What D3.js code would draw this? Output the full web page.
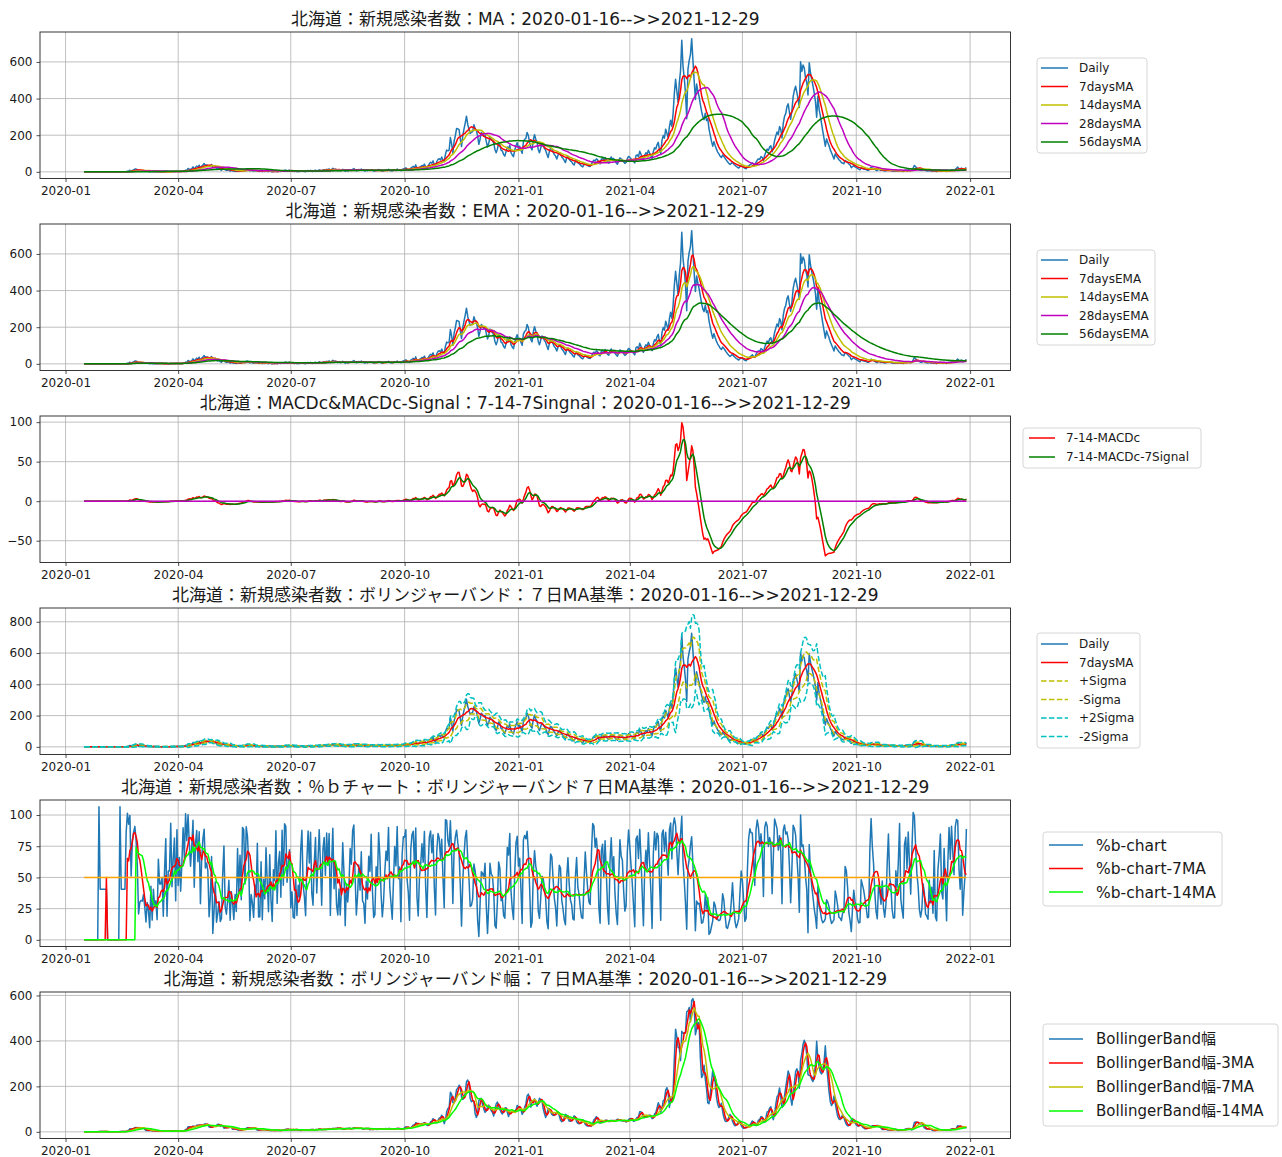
<!DOCTYPE html>
<html>
<head>
<meta charset="utf-8">
<script src="https://cdn.jsdelivr.net/npm/d3@7"></script>
<style>
  body { margin: 0; background: #fff; }
  svg text { font-family: "DejaVu Sans", "Noto Sans CJK JP", sans-serif; fill: #1a1a1a; }
</style>
</head>
<body>
<svg id="fig" width="1282" height="1157"></svg>
<script>
// daily new cases, Hokkaido, 2020-01-16 .. 2021-12-29
const cases2020 = [
  0,0,0,0,0,0,0,0,0,0,0,0,1,0,0,0,                                   // Jan 16-31
  0,0,0,0,0,0,0,0,0,0,0,0,0,1,0,0,0,0,1,3,4,9,3,8,11,15,15,12,4,      // Feb
  7,7,6,6,4,3,4,3,1,3,1,2,1,1,0,2,1,1,1,0,1,2,0,1,1,3,1,2,3,1,4,      // Mar
  2,3,2,3,5,4,9,8,18,15,12,17,27,14,24,31,25,36,19,30,37,45,35,38,36,29,33,40,23,25, // Apr
  30,18,17,18,12,9,18,20,11,8,9,12,4,8,6,3,5,2,7,4,6,3,9,11,6,14,15,12,5,8,6,      // May
  3,7,5,8,3,2,6,1,4,2,5,3,1,4,2,0,3,2,5,1,3,4,2,6,3,8,10,5,7,9,                    // Jun
  4,6,3,2,5,1,3,2,4,6,3,2,1,4,7,5,8,3,2,6,9,4,7,11,8,5,10,12,9,14,11,              // Jul
  16,8,13,19,12,15,10,7,11,6,9,14,10,3,8,5,7,12,9,14,18,11,6,9,13,10,15,8,7,4,9,   // Aug
  6,11,8,12,7,5,4,9,7,13,10,6,3,5,8,11,9,14,7,6,4,8,12,10,15,9,11,6,13,16,         // Sep
  18,22,14,12,9,20,25,30,21,38,17,13,24,28,35,31,42,26,20,33,44,52,47,60,38,31,55,68,72,65,81, // Oct
  62,57,96,119,115,119,187,153,100,166,197,236,235,230,181,138,197,233,266,304,
  260,232,209,216,220,257,237,226,196,150,                                          // Nov
  178,215,205,194,201,166,136,156,190,177,172,157,122,104,124,159,148,117,114,95,
  86,111,136,124,146,105,92,83,118,142,159                                          // Dec
];
const cases2021 = [
  128,140,118,101,162,177,182,215,198,161,132,120,174,203,178,165,122,104,130,152,
  141,128,117,96,78,112,131,125,109,94,86,                                          // Jan
  70,92,104,97,81,74,62,51,78,85,69,60,55,43,37,58,62,49,45,38,31,27,40,46,39,34,30,29, // Feb
  42,56,64,59,71,66,48,44,69,74,62,78,65,52,47,70,81,68,73,58,49,42,61,76,70,67,55,46,51,72,84, // Mar
  79,71,64,58,49,88,93,82,112,97,76,63,91,104,96,118,102,87,72,110,
  131,125,148,161,120,98,172,198,184,233,                                           // Apr
  210,186,245,282,248,320,430,505,440,380,486,552,718,575,512,430,290,561,608,640,
  727,612,498,395,480,440,410,370,330,300,285,                                      // May
  320,280,290,235,200,168,140,165,142,124,108,98,85,78,92,84,74,64,55,47,
  40,46,52,42,36,30,25,21,28,32,                                                    // Jun
  28,24,19,17,26,33,38,42,49,41,36,52,64,71,68,83,79,62,91,108,
  124,117,136,142,109,133,171,196,218,203,247,                                      // Jul
  232,185,264,302,318,356,371,324,287,336,410,445,467,432,398,352,601,548,583,567,
  512,488,420,596,541,503,470,432,385,298,412,                                      // Aug
  340,305,262,220,180,140,180,160,142,120,104,88,70,98,86,76,66,60,50,48,
  44,62,57,51,43,37,22,29,34,27,                                                    // Sep
  24,19,15,11,21,18,16,14,12,9,8,17,26,22,19,13,9,7,14,11,8,10,7,5,6,9,11,8,7,5,4, // Oct
  3,7,5,6,9,4,3,2,8,10,7,12,9,6,11,22,35,28,20,17,12,9,8,14,11,7,6,4,8,5,           // Nov
  6,4,7,3,2,5,6,8,4,3,7,5,2,6,9,7,12,10,8,14,19,26,17,13,21,11,15,18,24             // Dec 1-29
];

const xTickLabels = ["2020-01","2020-04","2020-07","2020-10","2021-01","2021-04","2021-07","2021-10","2022-01"];
const yTicksMA = [0, 200, 400, 600];
const yTicksMACD = [-50, 0, 50, 100];
const yTicksBB = [0, 200, 400, 600, 800];
const yTicksPctB = [0, 25, 50, 75, 100];
const yTicksWidth = [0, 200, 400, 600];

const maLabels = ["Daily", "7daysMA", "14daysMA", "28daysMA", "56daysMA"];
const emaLabels = ["Daily", "7daysEMA", "14daysEMA", "28daysEMA", "56daysEMA"];
const macdLabels = ["7-14-MACDc", "7-14-MACDc-7Signal"];
const bbLabels = ["Daily", "7daysMA", "+Sigma", "-Sigma", "+2Sigma", "-2Sigma"];
const pctBLabels = ["%b-chart", "%b-chart-7MA", "%b-chart-14MA"];
const widthLabels = ["BollingerBand幅", "BollingerBand幅-3MA", "BollingerBand幅-7MA", "BollingerBand幅-14MA"];

const period = "2020-01-16-->>2021-12-29";
const titles = [
  "北海道：新規感染者数：MA：" + period,
  "北海道：新規感染者数：EMA：" + period,
  "北海道：MACDc&MACDc-Signal：7-14-7Singnal：" + period,
  "北海道：新規感染者数：ボリンジャーバンド：７日MA基準：" + period,
  "北海道：新規感染者数：％ｂチャート：ボリンジャーバンド７日MA基準：" + period,
  "北海道：新規感染者数：ボリンジャーバンド幅：７日MA基準：" + period
];

// ---------- derived series ----------
const daily = cases2020.concat(cases2021);
const dates = daily.map((_, i) => new Date(2020, 0, 16 + i));

function rollMean(arr, n) {
  return arr.map((_, i) => {
    if (i < n - 1) return NaN;
    let s = 0;
    for (let k = i - n + 1; k <= i; k++) s += arr[k];
    return s / n;
  });
}
function rollStd(arr, n) {
  return arr.map((_, i) => {
    if (i < n - 1) return NaN;
    let m = 0;
    for (let k = i - n + 1; k <= i; k++) m += arr[k];
    m /= n;
    let q = 0;
    for (let k = i - n + 1; k <= i; k++) q += (arr[k] - m) * (arr[k] - m);
    return Math.sqrt(q / (n - 1));
  });
}
function ema(arr, span) {           // pandas ewm(span).mean(), adjust=True
  const a = 2 / (span + 1);
  let num = 0, den = 0;
  return arr.map(v => { num = v + (1 - a) * num; den = 1 + (1 - a) * den; return num / den; });
}
const fill0 = a => a.map(v => (isFinite(v) ? v : 0));

const ma7raw = rollMean(daily, 7), sd7raw = rollStd(daily, 7);
const ma7 = fill0(ma7raw), ma14 = fill0(rollMean(daily, 14)),
      ma28 = fill0(rollMean(daily, 28)), ma56 = fill0(rollMean(daily, 56));
const ema7 = ema(daily, 7), ema14 = ema(daily, 14), ema28 = ema(daily, 28), ema56 = ema(daily, 56);
const macd = ema7.map((v, i) => v - ema14[i]);
const signal = ema(macd, 7);
const band = k => fill0(ma7raw.map((m, i) => m + k * sd7raw[i]));
const pctBraw = daily.map((v, i) => {
  const s = sd7raw[i];
  if (!(s > 1e-9)) return NaN;
  return (v - (ma7raw[i] - 2 * s)) / (4 * s) * 100;
});
const widthRaw = sd7raw.map(s => 4 * s);

const C = { blue: "#1f77b4", red: "#ff0000", yel: "#bfbf00", mag: "#bf00bf", grn: "#008000",
            cyan: "#00bfbf", lime: "#00ff00", orange: "#ffa500" };
const dash = "5.5,2.4";

// ---------- layout ----------
const svg = d3.select("#fig");
const plotLeft = 40, plotRight = 1010.5, plotH = 146.5;
const panelTops = [32, 224, 416, 608, 800, 992];

const t0 = dates[0].getTime(), t1 = dates[dates.length - 1].getTime();
const xPad = (t1 - t0) * 0.05;
const x = d3.scaleTime().domain([new Date(t0 - xPad), new Date(t1 + xPad)]).range([plotLeft, plotRight]);
const xTicks = xTickLabels.map(s => { const [yy, mm] = s.split("-").map(Number); return new Date(yy, mm - 1, 1); });

const panels = [
  { ticks: yTicksMA,
    series: [daily, ma7, ma14, ma28, ma56].map((v, k) => ({ v, name: maLabels[k], color: [C.blue, C.red, C.yel, C.mag, C.grn][k] })),
    legend: { x: 1037, y: 58, w: 110, h: 95, fs: 12, row0: 68, step: 18.5, lx0: 1041, lx1: 1068, tx: 1079 } },
  { ticks: yTicksMA,
    series: [daily, ema7, ema14, ema28, ema56].map((v, k) => ({ v, name: emaLabels[k], color: [C.blue, C.red, C.yel, C.mag, C.grn][k] })),
    legend: { x: 1037, y: 250, w: 118, h: 95, fs: 12, row0: 260, step: 18.5, lx0: 1041, lx1: 1068, tx: 1079 } },
  { ticks: yTicksMACD, hline: 0, hcolor: C.mag,
    series: [macd, signal].map((v, k) => ({ v, name: macdLabels[k], color: [C.red, C.grn][k] })),
    legend: { x: 1023, y: 428, w: 178, h: 40, fs: 12, row0: 438, step: 19, lx0: 1029, lx1: 1055, tx: 1066 } },
  { ticks: yTicksBB,
    series: [daily, ma7, band(1), band(-1), band(2), band(-2)].map((v, k) => ({ v, name: bbLabels[k],
      color: [C.blue, C.red, C.yel, C.yel, C.cyan, C.cyan][k], dashed: k >= 2 })),
    legend: { x: 1037, y: 633, w: 103, h: 115, fs: 12, row0: 644, step: 18.5, lx0: 1041, lx1: 1068, tx: 1079 } },
  { ticks: yTicksPctB, hline: 50, hcolor: C.orange,
    series: [fill0(pctBraw), fill0(rollMean(pctBraw, 7)), fill0(rollMean(pctBraw, 14))].map((v, k) => ({ v, name: pctBLabels[k], color: [C.blue, C.red, C.lime][k] })),
    legend: { x: 1043, y: 832, w: 179, h: 74, fs: 15.5, row0: 845, step: 23.5, lx0: 1049, lx1: 1083, tx: 1096 } },
  { ticks: yTicksWidth,
    series: [fill0(widthRaw), fill0(rollMean(widthRaw, 3)), fill0(rollMean(widthRaw, 7)), fill0(rollMean(widthRaw, 14))].map((v, k) => ({ v, name: widthLabels[k], color: [C.blue, C.red, C.yel, C.lime][k] })),
    legend: { x: 1043, y: 1024, w: 235, h: 102, fs: 15, row0: 1039, step: 24, lx0: 1049, lx1: 1083, tx: 1096 } }
];

const fmtY = d => (d < 0 ? "\u2212" + (-d) : String(d));

panels.forEach((p, i) => {
  const top = panelTops[i], bottom = top + plotH;
  let vals = p.series.flatMap(s => s.v);
  if (p.hline != null) vals.push(p.hline);
  const [lo, hi] = d3.extent(vals);
  const yPad = (hi - lo) * 0.05;
  const y = d3.scaleLinear().domain([lo - yPad, hi + yPad]).range([bottom, top]);
  const g = svg.append("g");

  // grid
  g.selectAll(".gx").data(xTicks).enter().append("line")
    .attr("x1", d => x(d)).attr("x2", d => x(d)).attr("y1", top).attr("y2", bottom)
    .attr("stroke", "#b0b0b0").attr("stroke-width", 0.8);
  g.selectAll(".gy").data(p.ticks).enter().append("line")
    .attr("x1", plotLeft).attr("x2", plotRight).attr("y1", d => y(d)).attr("y2", d => y(d))
    .attr("stroke", "#b0b0b0").attr("stroke-width", 0.8);

  const line = d3.line().x((d, j) => x(dates[j])).y(d => y(d));
  p.series.forEach(s => {
    g.append("path").attr("d", line(s.v)).attr("fill", "none")
      .attr("stroke", s.color).attr("stroke-width", 1.5).attr("stroke-linejoin", "round")
      .attr("stroke-dasharray", s.dashed ? dash : null);
  });
  if (p.hline != null) {
    g.append("line").attr("x1", x(dates[0])).attr("x2", x(dates[dates.length - 1]))
      .attr("y1", y(p.hline)).attr("y2", y(p.hline)).attr("stroke", p.hcolor).attr("stroke-width", 1.5);
  }

  // axes
  const xa = g.append("g").attr("transform", `translate(0,${bottom})`)
    .call(d3.axisBottom(x).tickValues(xTicks).tickFormat(d3.timeFormat("%Y-%m")).tickSize(3.5).tickPadding(4).tickSizeOuter(0));
  const ya = g.append("g").attr("transform", `translate(${plotLeft},0)`)
    .call(d3.axisLeft(y).tickValues(p.ticks).tickFormat(fmtY).tickSize(3.5).tickPadding(4).tickSizeOuter(0));
  [xa, ya].forEach(a => {
    a.select(".domain").remove();
    a.selectAll("line").attr("stroke", "#222").attr("stroke-width", 0.8);
    a.selectAll("text").style("font-size", "12px").attr("fill", "#1a1a1a");
  });
  g.append("rect").attr("x", plotLeft).attr("y", top).attr("width", plotRight - plotLeft).attr("height", plotH)
    .attr("fill", "none").attr("stroke", "#222").attr("stroke-width", 0.9);

  g.append("text").attr("x", (plotLeft + plotRight) / 2).attr("y", top - 7)
    .attr("text-anchor", "middle").style("font-size", "17px").text(titles[i]);

  // legend
  const L = p.legend;
  const lg = svg.append("g");
  lg.append("rect").attr("x", L.x).attr("y", L.y).attr("width", L.w).attr("height", L.h).attr("rx", 3)
    .attr("fill", "#fff").attr("fill-opacity", 0.8).attr("stroke", "#d6d6d6").attr("stroke-width", 1);
  p.series.forEach((s, k) => {
    const yy = L.row0 + k * L.step;
    lg.append("line").attr("x1", L.lx0).attr("x2", L.lx1).attr("y1", yy).attr("y2", yy)
      .attr("stroke", s.color).attr("stroke-width", 1.5).attr("stroke-dasharray", s.dashed ? dash : null);
    lg.append("text").attr("x", L.tx).attr("y", yy).attr("dy", "0.36em")
      .style("font-size", L.fs + "px").text(s.name);
  });
});
</script>
</body>
</html>
